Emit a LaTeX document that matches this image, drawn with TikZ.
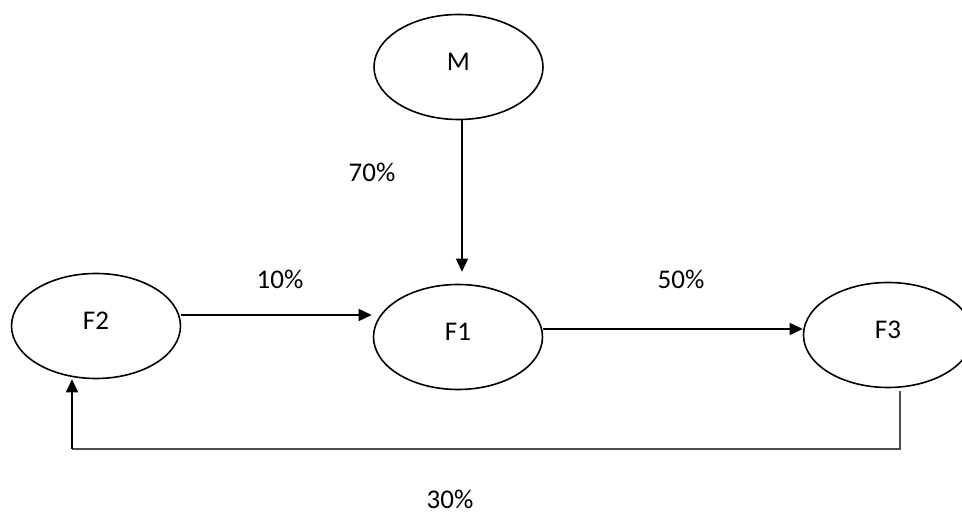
\documentclass[tikz,border=0pt]{standalone}
\usepackage{fontspec}
\setmainfont{Carlito}
\usetikzlibrary{arrows.meta,positioning,shapes.geometric,calc}

\begin{document}
\begin{tikzpicture}[x=1pt, y=1pt,
    state/.style={draw, ellipse, line width=1.6pt, minimum width=169pt, minimum height=105pt, inner sep=0pt, text height=18pt, text depth=10pt, font=\fontsize{27}{32}\selectfont},
    arrow/.style={-{Triangle[length=13pt,width=12pt]}, line width=1.6pt},
    feed/.style={line width=1.2pt, black!70},
    share/.style={font=\fontsize{27}{32}\selectfont}
  ]
    \useasboundingbox (0,0) rectangle (962,513);

    \node[state] (M) at (458.5,446) {M};
    \node[state] (F1) at (458,176) {F1};
    \node[state] (F2) at (96,187) {F2};
    \node[state] (F3) at (888,178) {F3};

    \coordinate (back) at (72,64);

    \draw[arrow] ([xshift=3.5pt]M.south) -- ([xshift=4pt,yshift=12pt]F1.north);
    \draw[arrow] ([yshift=11pt]F2.east) -- ([xshift=-1pt,yshift=22pt]F1.west);
    \draw[arrow] ([yshift=8pt]F1.east) -- ([yshift=6pt]F3.west);
    \draw[feed] ([xshift=12pt,yshift=-3pt]F3.south) |- (back);
    \draw[arrow] (back) -- (back |- F2.south);

    \node[share] (pM) at (372,341) {70\%};
    \node[share] (p21) at (280,234) {10\%};
    \node[share] (p13) at (681,234) {50\%};
    \node[share] (p32) at (450,14) {30\%};
  \end{tikzpicture}
\end{document}
